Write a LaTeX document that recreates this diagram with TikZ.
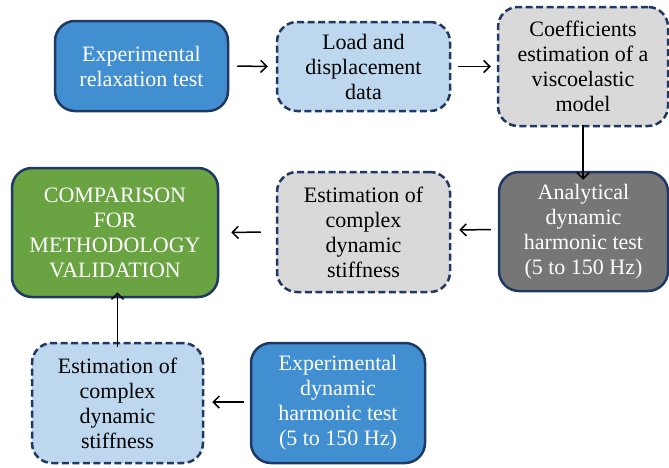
\documentclass[tikz,border=0pt]{standalone}
\usepackage{fontspec}
\setmainfont{Liberation Serif}
\usetikzlibrary{arrows.meta}
\definecolor{navy}{HTML}{1F3864}
\definecolor{bluefill}{HTML}{418FD0}
\definecolor{lightblue}{HTML}{BDD7EE}
\definecolor{lightgray}{HTML}{D9D9D9}
\definecolor{darkgray}{HTML}{767676}
\definecolor{greenfill}{HTML}{6AA341}
\tikzset{
  box/.style={draw=navy, line width=2.5pt, rounded corners=20pt, align=center,
    font=\fontsize{22}{25}\selectfont, inner sep=0pt},
  solidbox/.style={box, text=white},
  dashbox/.style={box, dash pattern=on 7pt off 3.5pt, text=black},
  arr/.style={line width=1.5pt, -{Straight Barb[length=6pt,width=12pt,line width=1.5pt]}}
}
\begin{document}
\begin{tikzpicture}[x=1pt,y=-1pt]
\useasboundingbox (0,0) rectangle (669,467);
\node[solidbox, fill=bluefill, minimum width=173pt, minimum height=90pt] (n1) at (141.5,66) {Experimental\\relaxation test};
\node[dashbox, fill=lightblue, minimum width=173pt, minimum height=89pt] (n2) at (363.5,66.5) {Load and\\displacement\\data};
\node[dashbox, fill=lightgray, minimum width=170pt, minimum height=119pt] (n3) at (583,66.5) {Coefficients\\estimation of a\\viscoelastic\\model};
\node[solidbox, fill=darkgray, minimum width=169pt, minimum height=119pt] (n4) at (583.5,231.5) {Analytical\\dynamic\\harmonic test\\(5 to 150 Hz)};
\node[dashbox, fill=lightgray, minimum width=173pt, minimum height=120pt] (n5) at (363.5,232) {Estimation of\\complex\\dynamic\\stiffness};
\node[solidbox, fill=greenfill, minimum width=206pt, minimum height=129pt] (n6) at (115,232.5) {COMPARISON\\FOR\\METHODOLOGY\\VALIDATION};
\node[dashbox, fill=lightblue, minimum width=171pt, minimum height=120pt] (n7) at (117.5,403) {Estimation of\\complex\\dynamic\\stiffness};
\node[solidbox, fill=bluefill, minimum width=174pt, minimum height=120pt] (n8) at (338,403) {Experimental\\dynamic\\harmonic test\\(5 to 150 Hz)};
\coordinate (a3) at ([yshift=2pt]n3.south);
\coordinate (b3) at ([yshift=-9pt]n4.north);
\coordinate (a7) at ([yshift=-5pt]n7.north);
\coordinate (b7) at ([yshift=6pt]n6.south);
\draw[arr] ([xshift=8pt]n1.east) -- ([xshift=-8pt]n2.west);
\draw[arr] ([xshift=7pt]n2.east) -- ([xshift=-6pt]n3.west);
\draw[arr] (a3) -- (a3 |- b3);
\draw[arr] ([xshift=-7pt,yshift=2pt]n4.west) -- ([xshift=8pt,yshift=2pt]n5.east);
\draw[arr] ([xshift=-15pt]n5.west) -- ([xshift=12pt]n6.east);
\draw[arr] ([xshift=-6pt,yshift=1pt]n8.west) -- ([xshift=8pt,yshift=1pt]n7.east);
\draw[arr] (a7) -- (a7 |- b7);
\end{tikzpicture}
\end{document}
